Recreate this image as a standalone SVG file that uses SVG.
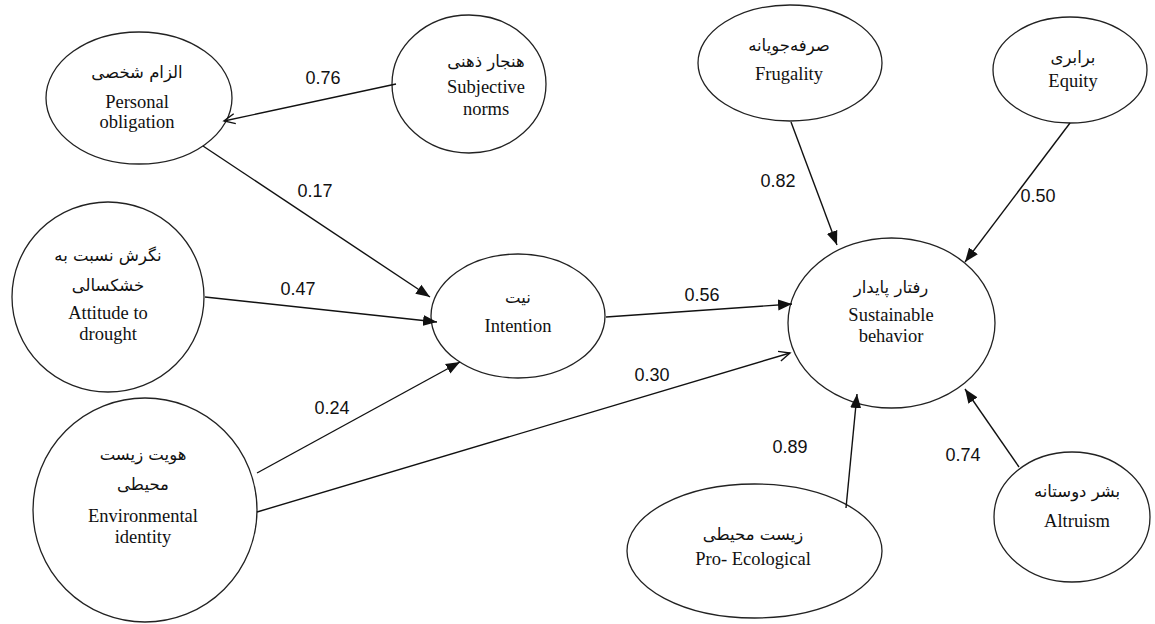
<svg xmlns="http://www.w3.org/2000/svg" width="1155" height="624" viewBox="0 0 1155 624">
<style>
.node ellipse{fill:#fff;stroke:#222;stroke-width:1.3}
.en{font-family:"Liberation Serif","Times New Roman",serif;font-size:18.5px;fill:#111;text-anchor:middle}
.fa{font-family:"DejaVu Sans","Noto Sans",sans-serif;font-size:16.5px;fill:#111;text-anchor:middle}
.lbl{font-family:"Liberation Sans",Arial,sans-serif;font-size:18px;fill:#111;text-anchor:middle}
.edges line{stroke:#111;stroke-width:1.4}
</style>
<defs>
<marker id="ah" markerUnits="userSpaceOnUse" markerWidth="15" markerHeight="12" refX="14" refY="6" orient="auto"><path d="M0,0.5 L14,6 L0,11.5 z" fill="#111"/></marker>
<marker id="ao" markerUnits="userSpaceOnUse" markerWidth="14" markerHeight="12" refX="12" refY="6" orient="auto"><path d="M1,1 L12,6 L1,11" fill="none" stroke="#111" stroke-width="1.4"/></marker>
</defs>
<rect width="1155" height="624" fill="#fff"/>
<g id="personal" class="node">
<ellipse cx="139" cy="98" rx="93" ry="66"/>
<text class="fa" x="137" y="78">الزام شخصی</text>
<text class="en" x="137" y="108">Personal</text>
<text class="en" x="137" y="128">obligation</text>
</g>
<g id="subjective" class="node">
<ellipse cx="469" cy="84" rx="77" ry="69"/>
<text class="fa" x="486" y="67">هنجار ذهنی</text>
<text class="en" x="486" y="93">Subjective</text>
<text class="en" x="486" y="115">norms</text>
</g>
<g id="attitude" class="node">
<ellipse cx="108" cy="297" rx="96" ry="95"/>
<text class="fa" x="108" y="261">نگرش نسبت به</text>
<text class="fa" x="108" y="291">خشکسالی</text>
<text class="en" x="108" y="319">Attitude to</text>
<text class="en" x="108" y="340">drought</text>
</g>
<g id="envidentity" class="node">
<ellipse cx="145" cy="510" rx="112" ry="112"/>
<text class="fa" x="143" y="460">هویت زیست</text>
<text class="fa" x="143" y="490">محیطی</text>
<text class="en" x="143" y="522">Environmental</text>
<text class="en" x="143" y="543">identity</text>
</g>
<g id="intention" class="node">
<ellipse cx="518" cy="316" rx="87" ry="62"/>
<text class="fa" x="518" y="303">نیت</text>
<text class="en" x="518" y="332">Intention</text>
</g>
<g id="frugality" class="node">
<ellipse cx="790" cy="63" rx="92" ry="58"/>
<text class="fa" x="789" y="51">صرفه‌جویانه</text>
<text class="en" x="789" y="80">Frugality</text>
</g>
<g id="equity" class="node">
<ellipse cx="1070" cy="70" rx="77" ry="53"/>
<text class="fa" x="1073" y="63">برابری</text>
<text class="en" x="1073" y="87">Equity</text>
</g>
<g id="sustainable" class="node">
<ellipse cx="891.5" cy="323" rx="103.5" ry="85"/>
<text class="fa" x="891" y="293">رفتار پایدار</text>
<text class="en" x="891" y="321">Sustainable</text>
<text class="en" x="891" y="342">behavior</text>
</g>
<g id="proecological" class="node">
<ellipse cx="754.5" cy="551" rx="127.5" ry="67"/>
<text class="fa" x="753" y="540">زیست محیطی</text>
<text class="en" x="753" y="565">Pro- Ecological</text>
</g>
<g id="altruism" class="node">
<ellipse cx="1072" cy="517" rx="78" ry="65"/>
<text class="fa" x="1077" y="497">بشر دوستانه</text>
<text class="en" x="1077" y="527">Altruism</text>
</g>
<g class="edges">
<line x1="396" y1="84" x2="224" y2="121" marker-end="url(#ao)"/>
<line x1="203" y1="146" x2="430" y2="297" marker-end="url(#ah)"/>
<line x1="205" y1="297" x2="437" y2="322" marker-end="url(#ah)"/>
<line x1="257" y1="473" x2="460" y2="362" marker-end="url(#ah)"/>
<line x1="257" y1="512" x2="790" y2="353" marker-end="url(#ao)"/>
<line x1="606" y1="317" x2="792" y2="304" marker-end="url(#ah)"/>
<line x1="791" y1="122" x2="837" y2="245" marker-end="url(#ah)"/>
<line x1="1070" y1="123" x2="965" y2="262" marker-end="url(#ah)"/>
<line x1="846" y1="508" x2="857" y2="394" marker-end="url(#ah)"/>
<line x1="1019" y1="467" x2="965" y2="389" marker-end="url(#ah)"/>
</g>
<g id="labels">
<text class="lbl" x="323" y="84">0.76</text>
<text class="lbl" x="315" y="197">0.17</text>
<text class="lbl" x="298" y="295">0.47</text>
<text class="lbl" x="332" y="414">0.24</text>
<text class="lbl" x="652" y="381">0.30</text>
<text class="lbl" x="702" y="301">0.56</text>
<text class="lbl" x="778" y="187">0.82</text>
<text class="lbl" x="1038" y="202">0.50</text>
<text class="lbl" x="790" y="453">0.89</text>
<text class="lbl" x="963" y="461">0.74</text>
</g>
</svg>
